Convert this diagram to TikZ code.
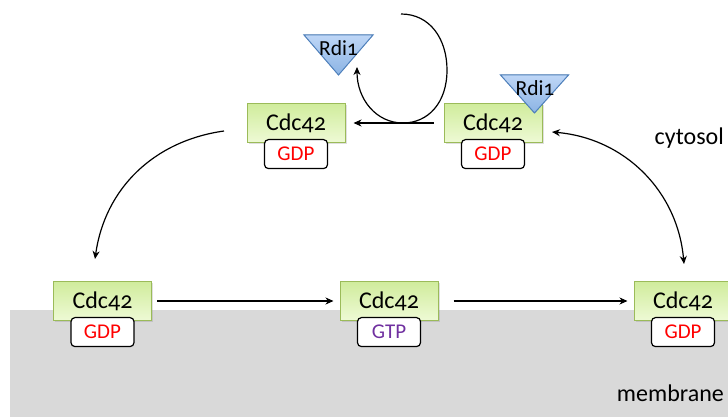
\documentclass[tikz,border=0pt]{standalone}
\usepackage{fontspec}
\setmainfont[Numbers=OldStyle]{Carlito}
\usepackage{xcolor}
\usetikzlibrary{positioning,arrows.meta,shadows}

\definecolor{boxgreen}{HTML}{9BBB59}
\definecolor{gtpviolet}{HTML}{7030A0}
\definecolor{rdiblue}{HTML}{4F81BD}

\tikzset{
  cdc/.style={draw=boxgreen, line width=1pt, top color={rgb,255:red,208;green,236;blue,156},
    bottom color={rgb,255:red,238;green,250;blue,213}, minimum width=98pt, minimum height=39pt,
    inner sep=0pt, font=\fontsize{24}{26}\selectfont,
    drop shadow={opacity=0.25, shadow xshift=1.5pt, shadow yshift=-1.5pt}},
  nucl/.style={draw=black, line width=1.2pt, fill=white, rounded corners=4pt,
    minimum width=63pt, minimum height=29pt, inner sep=0pt, font=\fontsize{21}{23}\selectfont},
  rdi/.style={draw=rdiblue, line width=1pt, top color={rgb,255:red,190;green,214;blue,246},
    bottom color={rgb,255:red,140;green,180;blue,228}},
  rditxt/.style={font=\fontsize{21.5}{23}\selectfont, inner sep=0pt},
  lbl/.style={font=\fontsize{24}{26}\selectfont, inner sep=0pt},
  arr/.style={->, line width=1.2pt}
}

\begin{document}
\begin{tikzpicture}[x=1pt, y=1pt, >={Stealth[length=8pt,width=7pt,inset=2.5pt]}]

    \useasboundingbox (0,0) rectangle (728,417);

    % membrane
    \fill[gray!30] (10,0) rectangle (728,107);
    \node[lbl, anchor=east] (membrane) at (724,24) {membrane};
    \node[lbl, anchor=east] (cytosol) at (724,279) {cytosol};

    % Cdc42 in the cytosol
    \node[cdc] (c1) at (296,294) {Cdc42};
    \node[nucl, below=-4pt of c1, text=red] (g1) {GDP};
    \node[cdc] (c2) at (493,294) {Cdc42};
    \node[nucl, below=-4pt of c2, text=red] (g2) {GDP};

    % Cdc42 at the membrane
    \node[cdc] (c3) at (102.5,116) {Cdc42};
    \node[nucl, below=-4pt of c3, text=red] (g3) {GDP};
    \node[cdc] (c4) at (389,116) {Cdc42};
    \node[nucl, below=-4pt of c4, text=gtpviolet] (g4) {GTP};
    \node[cdc] (c5) at (683,116) {Cdc42};
    \node[nucl, below=-4pt of c5, text=red] (g5) {GDP};

    % Rdi1
    \coordinate (r1) at (338.5,382);
    \coordinate (r2) at (534.5,342);
    \filldraw[rdi] (r1) ++(-34.5,0) -- ++(69,0) -- ++(-34.5,-40) -- cycle;
    \filldraw[rdi] (r2) ++(-34,0) -- ++(68,0) -- ++(-34,-38) -- cycle;
    \node[rditxt] (t1) at (338.5,368.5) {Rdi1};
    \node[rditxt] (t2) at (535,329) {Rdi1};

    % release loop
    \coordinate (ls) at (401,403);
    \coordinate (le) at (357,350);
    \draw[arr] (ls) .. controls (430,403) and (447,378) .. (447,347)
                    .. controls (447,314) and (428,294) .. (403,294)
                    .. controls (376,294) and (357,318) .. (le);

    \draw[arr, shorten <=10pt, shorten >=8pt] (c2) -- (c1);
    \coordinate (a1) at (224,286);
    \coordinate (b1) at (95,158);
    \draw[arr] (a1) to[out=188, in=82] (b1);
    \draw[arr, shorten <=5pt, shorten >=6pt] (c3) -- (c4);
    \draw[arr, shorten <=15pt, shorten >=6pt] (c4) -- (c5);
    \coordinate (a2) at (552,285);
    \coordinate (b2) at (684,153);
    \draw[arr, <->] (a2) to[out=-5, in=95] (b2);

\end{tikzpicture}
\end{document}
